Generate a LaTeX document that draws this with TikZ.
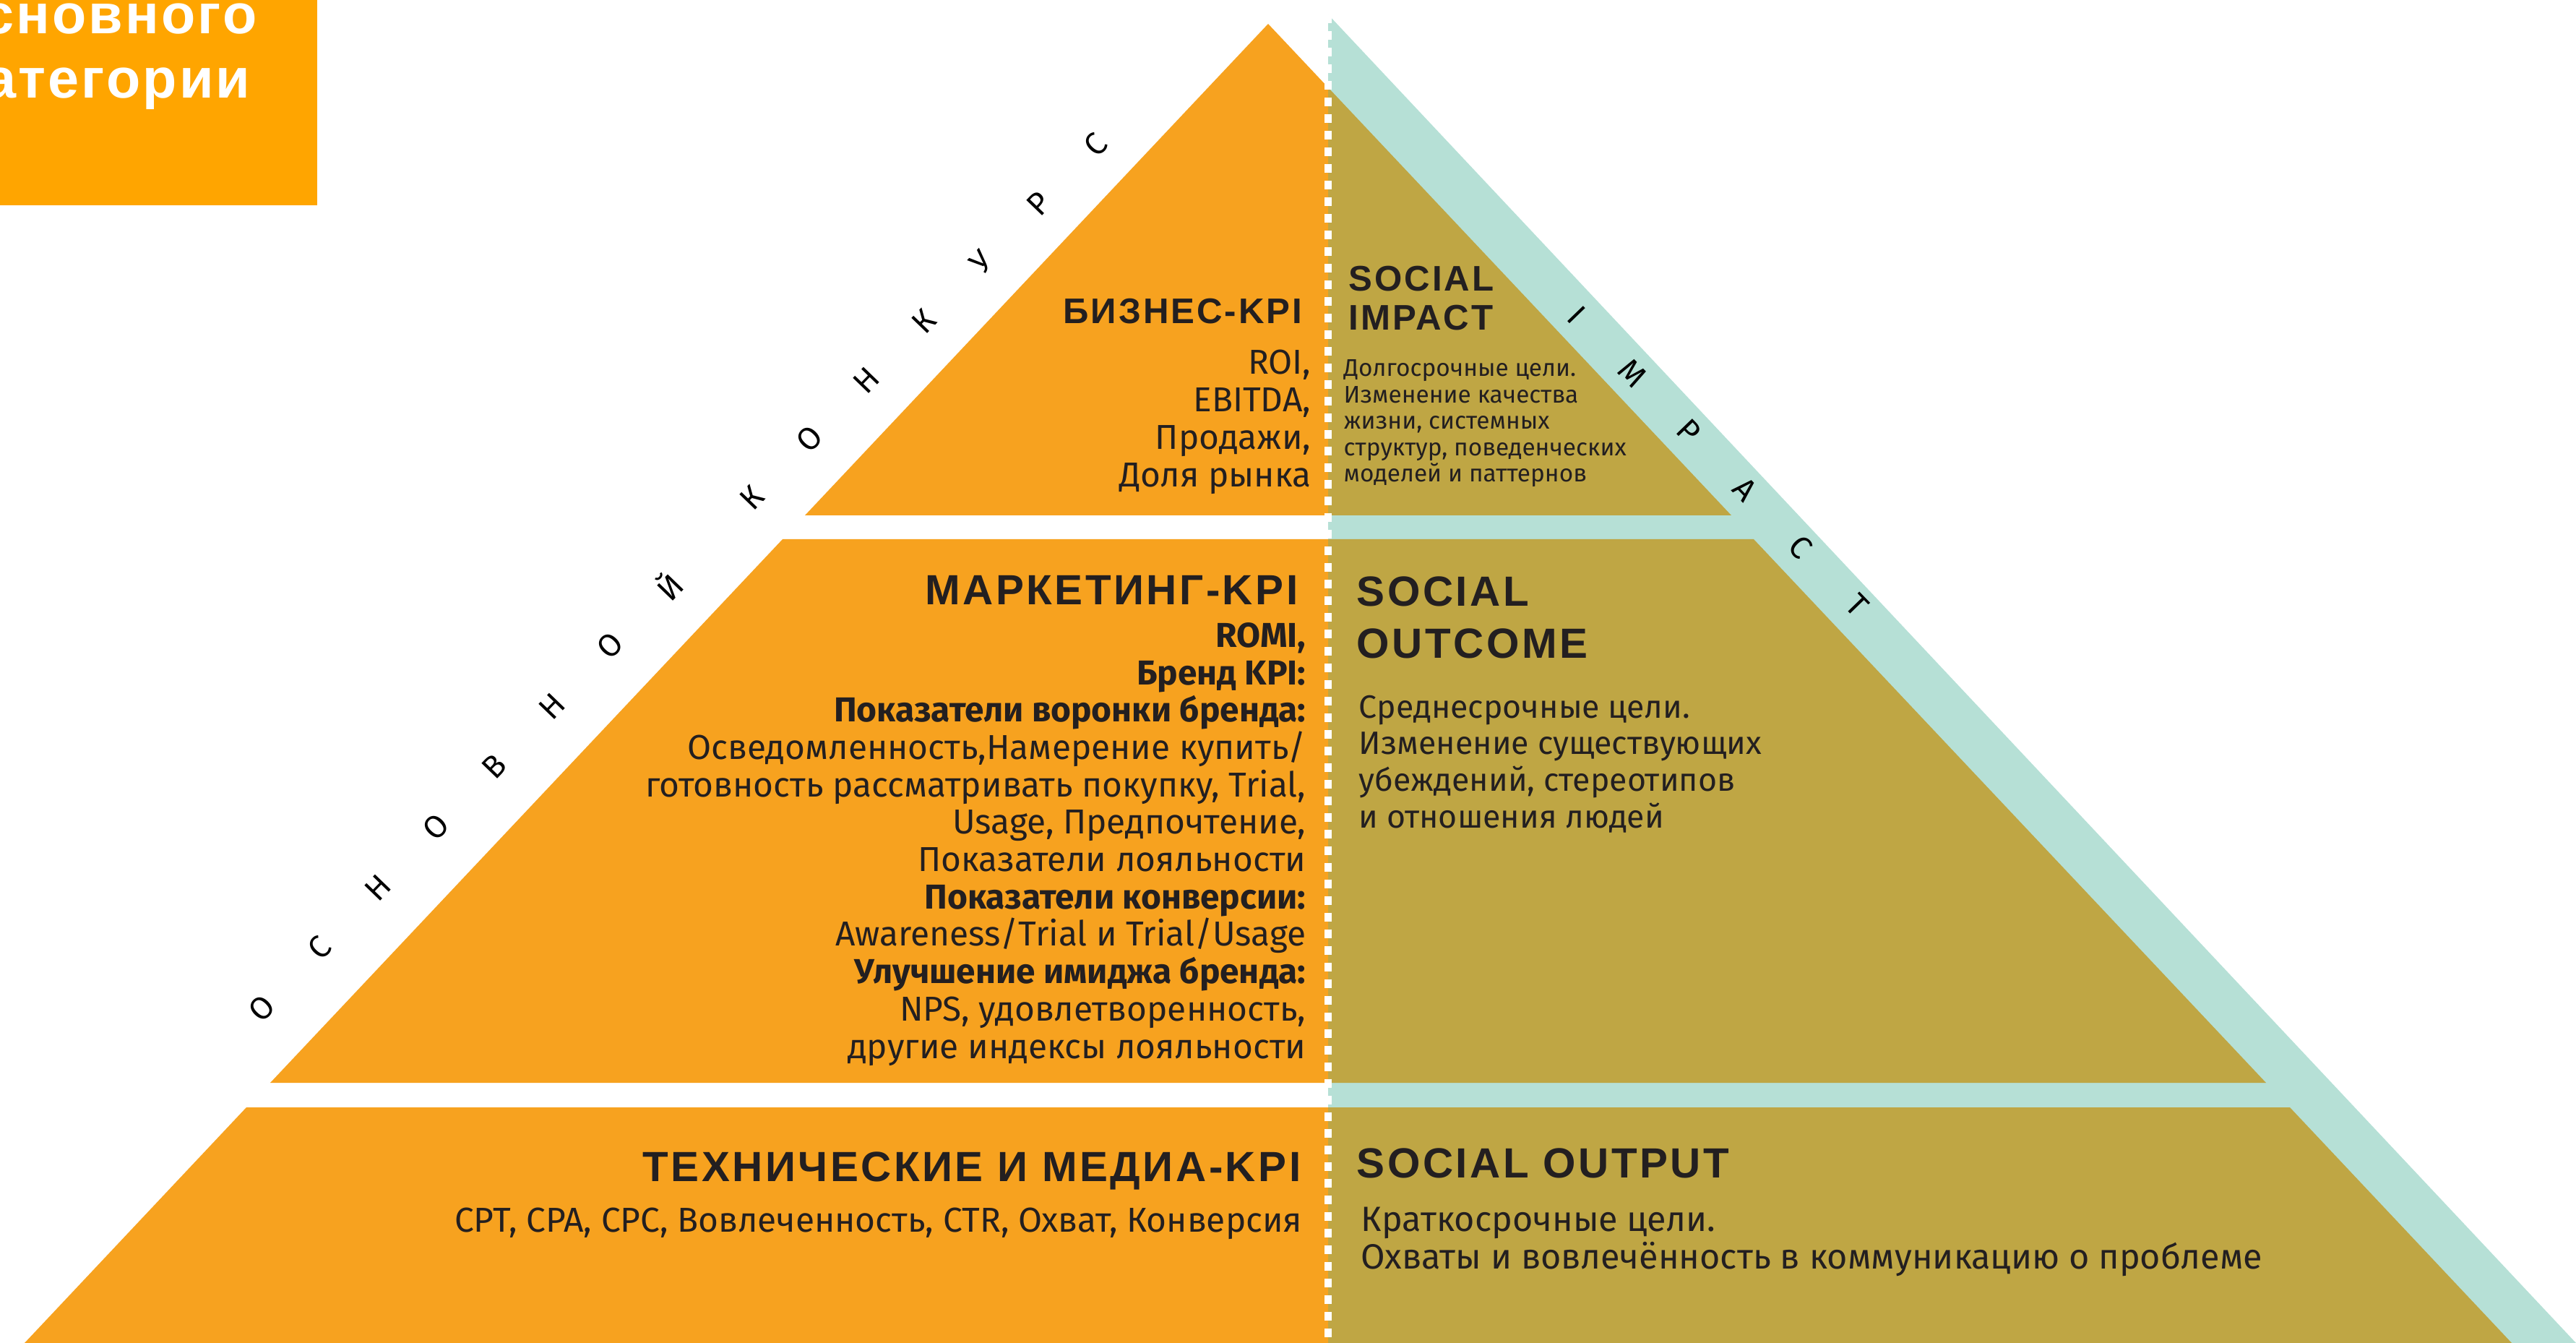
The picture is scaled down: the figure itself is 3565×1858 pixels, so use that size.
\documentclass[tikz,border=0pt]{standalone}
\usepackage{fontspec}
\setmainfont{Fira Sans}
\newfontfamily\headfont[LetterSpace=6]{Liberation Sans}
\newfontfamily\boxfont[LetterSpace=4]{Liberation Sans}
\usepackage{tikz}
\definecolor{kpi_orange}{HTML}{F7A21F}
\definecolor{box_orange}{HTML}{FFA500}
\definecolor{social_olive}{HTML}{BFA644}
\definecolor{impact_teal}{HTML}{B6E0D6}
\definecolor{ink}{HTML}{231F20}
\tikzset{
body/.style={inner sep=0pt, text=ink, font=\fontsize{13.6}{14.7}\selectfont},
bodyright/.style={body, align=right, anchor=base east},
bodyleft/.style={body, align=left, anchor=base west},
smallleft/.style={bodyleft, font=\fontsize{9.5}{10.4}\selectfont},
headsmall/.style={inner sep=0pt, text=ink, font=\headfont\bfseries\fontsize{14}{15.6}\selectfont},
headbig/.style={inner sep=0pt, text=ink, font=\headfont\bfseries\fontsize{16.6}{20.2}\selectfont},
boxtext/.style={inner sep=0pt, anchor=base east, text=white, font=\boxfont\bfseries\fontsize{22}{25}\selectfont},
edgeletter/.style={inner sep=0pt, text=black, font=\fontsize{12.5}{12.5}\selectfont}
}

\begin{document}
\begin{tikzpicture}[x=0.01cm, y=-0.01cm]
        \useasboundingbox (0,0) rectangle (3565,1858);
        \clip (0,0) rectangle (3565,1858);

        % teal band behind the right half
        \fill[impact_teal] (1838,20) -- (3565,1858) -- (1838,1858) -- cycle;

        % pyramid: left half orange, right half olive
        \begin{scope}
            \clip (0,0) rectangle (1838,1858);
            \fill[kpi_orange] (1755,33) -- (2396,713) -- (1114,713) -- cycle;
            \fill[kpi_orange] (1083,746) -- (2427,746) -- (3136,1498) -- (374,1498) -- cycle;
            \fill[kpi_orange] (341,1532) -- (3169,1532) -- (3476,1858) -- (34,1858) -- cycle;
        \end{scope}
        \begin{scope}
            \clip (1838,0) rectangle (3565,1858);
            \fill[social_olive] (1755,33) -- (2396,713) -- (1114,713) -- cycle;
            \fill[social_olive] (1083,746) -- (2427,746) -- (3136,1498) -- (374,1498) -- cycle;
            \fill[social_olive] (341,1532) -- (3169,1532) -- (3476,1858) -- (34,1858) -- cycle;
        \end{scope}
        \draw[white, line width=1mm, dash pattern=on 1.2mm off 1.1mm] (1838,20) -- (1838,1858);

        % box in the corner
        \fill[box_orange] (0,0) rectangle (439,284);
        \node[boxtext] (box_a) at (356,47) {сновного};
        \node[boxtext] (box_b) at (347,136) {атегории};

        % left side (multi-line nodes sit on their last baseline)
        \node[headsmall, anchor=base east] (biz_kpi) at (1803,448) {БИЗНЕС-KPI};
        \node[bodyright] (biz_list) at (1815,673) {ROI,\\EBITDA,\\Продажи,\\Доля рынка};
        \node[headbig, anchor=base east] (mkt_kpi) at (1797,837) {МАРКЕТИНГ-KPI};
        \node[bodyright] (mkt_list) at (1808,1464) {\textbf{ROMI,}\\\textbf{Бренд KPI:}\\\textbf{Показатели воронки бренда:}\\Осведомленность,Намерение купить/\\готовность рассматривать покупку, Trial,\\Usage, Предпочтение,\\Показатели лояльности\\\textbf{Показатели конверсии:}\\Awareness/Trial и Trial/Usage\\\textbf{Улучшение имиджа бренда:}\\NPS, удовлетворенность,\\другие индексы лояльности};
        \node[headbig, anchor=base east] (tech_kpi) at (1801,1634) {ТЕХНИЧЕСКИЕ И МЕДИА-KPI};
        \node[bodyright] (tech_list) at (1803,1704) {CPT, CPA, CPC, Вовлеченность, CTR, Охват, Конверсия};

        % right side
        \node[headsmall, align=left, anchor=base west] (soc_impact) at (1866,457) {SOCIAL\\IMPACT};
        \node[smallleft] (impact_txt) at (1859,667) {Долгосрочные цели.\\Изменение качества\\жизни, системных\\структур, поведенческих\\моделей и паттернов};
        \node[headbig, align=left, anchor=base west] (soc_outcome) at (1877,910) {SOCIAL\\OUTCOME};
        \node[bodyleft, font=\fontsize{12.7}{14.4}\selectfont] (outcome_txt) at (1880,1145) {Среднесрочные цели.\\Изменение существующих\\убеждений, стереотипов\\и отношения людей};
        \node[headbig, anchor=base west] (soc_output) at (1877,1629) {SOCIAL OUTPUT};
        \node[bodyleft, font=\fontsize{13.8}{14.7}\selectfont] (output_txt) at (1883,1755) {Краткосрочные цели.\\Охваты и вовлечённость в коммуникацию о проблеме};

        % letters along the edges
        \foreach \ch [count=\i from 0] in {О,С,Н,О,В,Н,О,Й}
            \node[edgeletter, rotate=46] (main_\i) at ({362+80.4*\i},{1395-83.6*\i}) {\ch};
        \foreach \ch [count=\i from 0] in {К,О,Н,К,У,Р,С}
            \node[edgeletter, rotate=46] (contest_\i) at ({1041+79.2*\i},{689-81.5*\i}) {\ch};
        \foreach \ch [count=\i from 0] in {I,M,P,A,C,T}
            \node[edgeletter, rotate=-46] (impact_\i) at ({2182+77.6*\i},{436+80.2*\i}) {\ch};
    \end{tikzpicture}
\end{document}
